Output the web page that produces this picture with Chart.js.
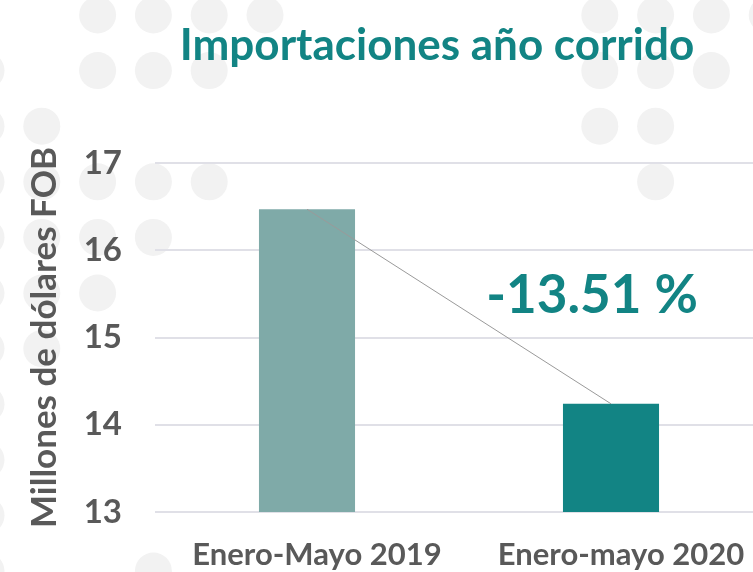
<!DOCTYPE html>
<html lang="es">
<head>
    <meta charset="utf-8" />
    <title>Importaciones año corrido</title>
    <script src="https://cdn.jsdelivr.net/npm/chart.js"></script>
    <style>
        html, body {
            margin: 0;
            padding: 0;
            background: #fff;
            overflow: hidden;
        }

        .chart-box {
            position: relative;
            width: 770px;
            height: 572px;
        }
    </style>
</head>
<body>
    <div class="chart-box">
        <canvas id="importChart"></canvas>
    </div>

    <script>
        // Data
        const periods = ['Enero-Mayo 2019', 'Enero-mayo 2020'];
        const importValues = [16.47, 14.24];
        const yTicks = [13, 14, 15, 16, 17];
        const changeLabel = '-13.51 %';
        const chartTitle = 'Importaciones año corrido';
        const axisTitle = 'Millones de dólares FOB';

        // decorative dot pattern behind the chart: [column, row]
        const dots = [
            [2, 0], [3, 0], [4, 0], [5, 0], [11, 0], [12, 0], [13, 0], [14, 0],
            [0, 1], [2, 1], [3, 1], [4, 1], [11, 1], [12, 1], [13, 1],
            [0, 2], [1, 2], [11, 2], [12, 2],
            [0, 3], [1, 3], [2, 3], [3, 3], [4, 3], [12, 3],
            [0, 4], [1, 4], [2, 4], [3, 4],
            [0, 5], [1, 5], [2, 5],
            [0, 6], [1, 6],
            [0, 7], [0, 8], [0, 9],
            [0, 10], [3, 10]
        ];

        const teal = '#128484';
        const grey = '#595959';

        const dotBackground = {
            id: 'dotBackground',
            beforeDraw(chart) {
                const ctx = chart.ctx;
                ctx.save();
                ctx.fillStyle = '#fff';
                ctx.fillRect(0, 0, chart.width, chart.height);
                ctx.fillStyle = '#f2f2f2';
                dots.forEach(([c, r]) => {
                    ctx.beginPath();
                    ctx.arc(-14 + c * 55.8, 15 + r * 55.6, 18.5, 0, Math.PI * 2);
                    ctx.fill();
                });
                ctx.restore();
            }
        };

        const labels = {
            id: 'labels',
            afterDraw(chart) {
                const ctx = chart.ctx;
                const x = chart.scales.x;
                const y = chart.scales.y;
                ctx.save();
                ctx.fillStyle = teal;
                ctx.textAlign = 'center';
                ctx.textBaseline = 'alphabetic';
                ctx.font = 'bold 44px Lato';
                ctx.fillText(chartTitle, 437, 60);
                ctx.font = 'bold 53px Lato';
                ctx.fillText(changeLabel, x.getPixelForValue(1) - 19, y.getPixelForValue(15.28));
                ctx.restore();
            }
        };

        new Chart(document.getElementById('importChart'), {
            data: {
                labels: periods,
                datasets: [{
                    type: 'line',
                    data: importValues,
                    borderColor: '#9a9a9a',
                    borderWidth: 1,
                    pointRadius: 0,
                    order: 1
                }, {
                    type: 'bar',
                    data: importValues,
                    backgroundColor: ['#7faaa8', teal],
                    barPercentage: 0.316,
                    categoryPercentage: 1,
                    order: 2
                }]
            },
            options: {
                responsive: true,
                maintainAspectRatio: false,
                animation: false,
                layout: { padding: { top: 163, right: 7, bottom: 0, left: 0 } },
                plugins: {
                    legend: { display: false },
                    tooltip: { enabled: false }
                },
                scales: {
                    x: {
                        grid: { display: false },
                        border: { display: false },
                        ticks: {
                            color: grey,
                            font: { family: 'Lato', size: 31, weight: 'bold' },
                            padding: 16,
                            labelOffset: 10,
                            maxRotation: 0,
                            autoSkip: false
                        },
                        afterFit: (s) => { s.height = 60; }
                    },
                    y: {
                        min: 13,
                        max: 17,
                        afterBuildTicks: (s) => { s.ticks = yTicks.map(v => ({ value: v })); },
                        grid: { color: '#e0e0e7', lineWidth: 2, drawTicks: false },
                        border: { display: false },
                        ticks: {
                            color: grey,
                            font: { family: 'Lato', size: 33, weight: 'bold' },
                            padding: 33
                        },
                        title: {
                            display: true,
                            text: axisTitle,
                            color: grey,
                            font: { family: 'Lato', size: 35, weight: 'bold' },
                            padding: { top: 24, bottom: 0 }
                        },
                        afterFit: (s) => { s.width = 155; }
                    }
                }
            },
            plugins: [dotBackground, labels]
        });
    </script>
</body>
</html>
